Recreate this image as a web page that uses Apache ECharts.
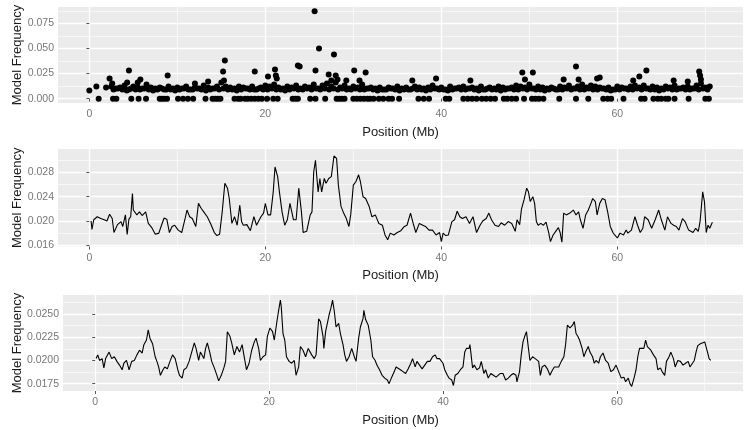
<!DOCTYPE html>
<html>
<head>
<meta charset="utf-8">
<script src="https://cdn.jsdelivr.net/npm/echarts@6/dist/echarts.min.js"></script>
<style>html,body{margin:0;padding:0;background:#fff}#c{width:750px;height:430px}</style>
</head>
<body>
<div id="c"></div>
<script>
// ---------- DATA ----------
const xTicks = [0, 20, 40, 60];
const xMinorTicks = [10, 30, 50, 70];
const y1Ticks = [0, 0.025, 0.05, 0.075];
const y1Minor = [0.0125, 0.0375, 0.0625, 0.0875];
const y2Ticks = [0.016, 0.020, 0.024, 0.028];
const y2Minor = [0.018, 0.022, 0.026, 0.030];
const y3Ticks = [0.0175, 0.0200, 0.0225, 0.0250];
const y3Minor = [0.01875, 0.02125, 0.02375, 0.02625];

// panel 1: model frequency per window (scatter)
const bandUpper = [
[2.5,0.012],[3,0.010],[3.5,0.011],[4,0.013],[4.5,0.009],[5,0.012],[5.5,0.011],[6,0.010],[6.5,0.014],[7,0.011],
[7.5,0.010],[8,0.011],[8.5,0.009],[9,0.012],[9.5,0.010],[10,0.011],[10.5,0.010],[11,0.012],[11.5,0.009],[12,0.011],
[12.5,0.010],[13,0.013],[13.5,0.011],[14,0.010],[14.5,0.012],[15,0.016],[15.5,0.012],[16,0.011],[16.5,0.010],[17,0.012],
[17.5,0.011],[18,0.010],[18.5,0.012],[19,0.009],[19.5,0.011],[20,0.013],[20.5,0.012],[21,0.014],[21.5,0.011],[22,0.010],
[22.5,0.012],[23,0.011],[23.5,0.013],[24,0.010],[24.5,0.012],[25,0.011],[25.5,0.014],[26,0.010],[26.5,0.013],[27,0.015],
[27.5,0.012],[28,0.016],[28.5,0.011],[29,0.013],[29.5,0.010],[30,0.012],[30.5,0.011],[31,0.014],[31.5,0.010],[32,0.011],
[32.5,0.010],[33,0.011],[33.5,0.009],[34,0.011],[34.5,0.010],[35,0.012],[35.5,0.010],[36,0.011],[36.5,0.009],[37,0.012],
[37.5,0.011],[38,0.010],[38.5,0.011],[39,0.013],[39.5,0.010],[40,0.011],[40.5,0.009],[41,0.012],[41.5,0.010],[42,0.011],
[42.5,0.012],[43,0.010],[43.5,0.011],[44,0.010],[44.5,0.012],[45,0.009],[45.5,0.011],[46,0.010],[46.5,0.012],[47,0.011],
[47.5,0.010],[48,0.011],[48.5,0.013],[49,0.012],[49.5,0.011],[50,0.014],[50.5,0.010],[51,0.012],[51.5,0.011],[52,0.010],
[52.5,0.011],[53,0.009],[53.5,0.012],[54,0.011],[54.5,0.013],[55,0.010],[55.5,0.012],[56,0.014],[56.5,0.011],[57,0.013],
[57.5,0.012],[58,0.011],[58.5,0.010],[59,0.011],[59.5,0.009],[60,0.012],[60.5,0.011],[61,0.010],[61.5,0.012],[62,0.013],
[62.5,0.011],[63,0.013],[63.5,0.010],[64,0.012],[64.5,0.011],[65,0.010],[65.5,0.012],[66,0.011],[66.5,0.013],[67,0.010],
[67.5,0.011],[68,0.012],[68.5,0.010],[69,0.013],[69.5,0.015],[70,0.011],[70.5,0.012]
];
const bandLower = [
[2.75,0.009],[3.25,0.010],[3.75,0.009],[4.25,0.008],[4.75,0.010],[5.25,0.009],[5.75,0.009],[6.25,0.010],[6.75,0.009],[7.25,0.008],
[7.75,0.009],[8.25,0.010],[8.75,0.009],[9.25,0.009],[9.75,0.008],[10.25,0.009],[10.75,0.010],[11.25,0.009],[11.75,0.009],[12.25,0.010],
[12.75,0.009],[13.25,0.008],[13.75,0.009],[14.25,0.010],[14.75,0.009],[15.25,0.010],[15.75,0.009],[16.25,0.009],[16.75,0.008],[17.25,0.009],
[17.75,0.010],[18.25,0.009],[18.75,0.009],[19.25,0.010],[19.75,0.009],[20.25,0.009],[20.75,0.010],[21.25,0.009],[21.75,0.009],[22.25,0.008],
[22.75,0.009],[23.25,0.010],[23.75,0.009],[24.25,0.009],[24.75,0.010],[25.25,0.009],[25.75,0.010],[26.25,0.009],[26.75,0.010],[27.25,0.009],
[27.75,0.010],[28.25,0.009],[28.75,0.010],[29.25,0.009],[29.75,0.009],[30.25,0.010],[30.75,0.009],[31.25,0.009],[31.75,0.010],[32.25,0.009],
[32.75,0.008],[33.25,0.009],[33.75,0.009],[34.25,0.010],[34.75,0.009],[35.25,0.008],[35.75,0.009],[36.25,0.009],[36.75,0.010],[37.25,0.009],
[37.75,0.009],[38.25,0.008],[38.75,0.009],[39.25,0.010],[39.75,0.009],[40.25,0.009],[40.75,0.008],[41.25,0.009],[41.75,0.010],[42.25,0.009],
[42.75,0.009],[43.25,0.010],[43.75,0.009],[44.25,0.008],[44.75,0.009],[45.25,0.010],[45.75,0.009],[46.25,0.009],[46.75,0.008],[47.25,0.009],
[47.75,0.010],[48.25,0.009],[48.75,0.009],[49.25,0.010],[49.75,0.009],[50.25,0.010],[50.75,0.009],[51.25,0.009],[51.75,0.008],[52.25,0.009],
[52.75,0.010],[53.25,0.009],[53.75,0.009],[54.25,0.010],[54.75,0.009],[55.25,0.010],[55.75,0.009],[56.25,0.009],[56.75,0.010],[57.25,0.009],
[57.75,0.009],[58.25,0.010],[58.75,0.009],[59.25,0.008],[59.75,0.009],[60.25,0.009],[60.75,0.010],[61.25,0.009],[61.75,0.009],[62.25,0.010],
[62.75,0.009],[63.25,0.010],[63.75,0.009],[64.25,0.009],[64.75,0.008],[65.25,0.009],[65.75,0.010],[66.25,0.009],[66.75,0.009],[67.25,0.010],
[67.75,0.009],[68.25,0.009],[68.75,0.010],[69.25,0.009],[69.75,0.010],[70.25,0.009]
];
const zeroPositions = [
1.06,2.69,3.07,4.77,5.6,6.44,8.0,8.26,8.52,8.83,10.08,10.65,11.2,11.8,13.2,14.0,14.3,14.6,14.9,
16.5,16.9,17.2,17.7,18.0,18.4,18.8,19.2,19.6,20.2,20.9,21.4,23.1,23.4,23.7,25.1,25.7,26.8,
28.1,28.4,28.7,29.0,30.0,30.4,30.8,31.2,31.6,31.9,32.3,32.9,33.4,34.0,34.4,35.2,37.4,38.0,38.6,
40.5,40.9,42.5,43.0,43.5,44.0,44.6,45.1,45.6,46.1,47.1,47.5,48.0,48.5,49.4,50.3,50.7,51.1,51.6,
53.4,55.3,56.7,58.4,58.9,59.3,60.7,62.7,63.1,64.1,64.6,65.0,65.5,65.8,66.5,68.1,70.0,70.4
];
const outliers = [
[0.0,0.008],[0.8,0.012],[1.9,0.011],[2.3,0.020],[2.6,0.015],[4.5,0.028],[4.3,0.016],[5.8,0.019],[5.5,0.016],
[8.9,0.023],[12.0,0.015],[13.5,0.017],[15.2,0.027],[15.4,0.038],[15.3,0.018],[18.8,0.027],[20.3,0.022],
[21.1,0.029],[21.2,0.023],[21.3,0.020],[23.7,0.033],[23.9,0.032],[25.6,0.087],[25.7,0.028],[26.1,0.050],
[27.8,0.044],[27.2,0.024],[28.0,0.023],[27.5,0.018],[28.2,0.019],[30.1,0.028],[31.4,0.026],[29.2,0.018],
[30.7,0.018],[36.7,0.018],[39.4,0.020],[43.3,0.018],[49.2,0.026],[50.4,0.026],[49.5,0.019],[53.9,0.019],
[55.3,0.032],[55.6,0.019],[57.7,0.020],[58.0,0.021],[62.5,0.022],[63.3,0.028],[61.8,0.018],[66.4,0.018],
[69.3,0.027],[69.4,0.023],[69.5,0.019],[68.0,0.017]
];

// panel 2: smoothed model frequency
const smooth2 = [
[0.2,0.0200],[0.3,0.0186],[0.5,0.0202],[0.9,0.0207],[1.3,0.0204],[1.7,0.0202],[2.0,0.0200],[2.3,0.0211],[2.6,0.0204],[2.8,0.0181],
[3.2,0.0194],[3.6,0.0199],[3.8,0.0191],[4.1,0.0210],[4.3,0.0178],[4.5,0.0203],[4.7,0.0207],[4.9,0.0245],[5.0,0.0218],[5.4,0.0210],
[5.7,0.0215],[6.0,0.0209],[6.4,0.0215],[6.7,0.0196],[7.1,0.0189],[7.5,0.0178],[7.9,0.0180],[8.2,0.0193],[8.5,0.0205],[8.8,0.0203],
[9.1,0.0181],[9.4,0.0191],[9.7,0.0193],[10.1,0.0185],[10.5,0.0181],[10.9,0.0205],[11.1,0.0218],[11.4,0.0207],[11.7,0.0204],[12.1,0.0191],
[12.4,0.0229],[12.7,0.0221],[13.0,0.0215],[13.4,0.0207],[13.8,0.0195],[14.2,0.0181],[14.5,0.0176],[14.8,0.0178],[15.1,0.0215],[15.4,0.0262],
[15.7,0.0254],[15.9,0.0237],[16.2,0.0196],[16.5,0.0207],[16.8,0.0193],[17.1,0.0226],[17.3,0.0199],[17.5,0.0193],[17.9,0.0194],[18.3,0.0184],
[18.7,0.0207],[19.0,0.0193],[19.2,0.0196],[19.5,0.0207],[19.8,0.0213],[20.0,0.0229],[20.3,0.0210],[20.6,0.0210],[20.9,0.0248],[21.1,0.0289],
[21.4,0.0273],[21.6,0.0248],[21.9,0.0215],[22.2,0.0193],[22.5,0.0202],[22.8,0.0229],[23.2,0.0202],[23.5,0.0202],[23.8,0.0254],[24.1,0.0215],
[24.3,0.0181],[24.7,0.0183],[25.1,0.0210],[25.3,0.0215],[25.5,0.0281],[25.7,0.0300],[25.8,0.0281],[26.0,0.0248],[26.2,0.0270],[26.4,0.0248],
[26.7,0.0270],[26.9,0.0262],[27.2,0.0270],[27.5,0.0273],[27.8,0.0307],[28.1,0.0303],[28.3,0.0259],[28.6,0.0224],[28.9,0.0213],[29.2,0.0204],
[29.5,0.0191],[29.7,0.0210],[30.0,0.0259],[30.3,0.0265],[30.6,0.0276],[30.8,0.0265],[31.1,0.0240],[31.4,0.0237],[31.8,0.0224],[32.1,0.0207],
[32.5,0.0210],[32.9,0.0196],[33.3,0.0193],[33.6,0.0177],[33.9,0.0169],[34.2,0.0180],[34.6,0.0177],[35.0,0.0181],[35.4,0.0184],[35.8,0.0191],
[36.1,0.0193],[36.5,0.0213],[36.8,0.0196],[37.1,0.0181],[37.5,0.0196],[37.9,0.0193],[38.2,0.0191],[38.6,0.0185],[39.0,0.0185],[39.4,0.0177],
[39.8,0.0181],[40.0,0.0166],[40.2,0.0180],[40.5,0.0176],[40.8,0.0177],[41.2,0.0199],[41.5,0.0202],[41.8,0.0216],[42.1,0.0207],[42.4,0.0204],
[42.8,0.0207],[43.2,0.0196],[43.6,0.0207],[44.0,0.0181],[44.4,0.0193],[44.7,0.0200],[45.1,0.0204],[45.4,0.0213],[45.7,0.0202],[46.1,0.0193],
[46.5,0.0191],[46.8,0.0197],[47.2,0.0193],[47.6,0.0199],[48.0,0.0196],[48.4,0.0183],[48.6,0.0202],[48.9,0.0194],[49.1,0.0219],[49.4,0.0235],
[49.7,0.0254],[49.9,0.0248],[50.1,0.0232],[50.4,0.0240],[50.6,0.0229],[50.8,0.0199],[51.0,0.0193],[51.3,0.0196],[51.6,0.0193],[51.9,0.0198],
[52.2,0.0181],[52.4,0.0166],[52.7,0.0177],[53.0,0.0183],[53.3,0.0189],[53.5,0.0181],[53.7,0.0165],[53.9,0.0213],[54.2,0.0210],[54.6,0.0213],
[55.0,0.0218],[55.3,0.0210],[55.6,0.0215],[55.8,0.0202],[56.1,0.0188],[56.4,0.0210],[56.7,0.0218],[57.0,0.0229],[57.2,0.0237],[57.5,0.0232],
[57.7,0.0210],[58.0,0.0229],[58.3,0.0237],[58.6,0.0235],[58.9,0.0215],[59.2,0.0191],[59.5,0.0181],[59.7,0.0177],[60.0,0.0172],[60.3,0.0180],
[60.7,0.0177],[61.0,0.0185],[61.2,0.0180],[61.6,0.0185],[62.0,0.0207],[62.3,0.0193],[62.6,0.0181],[62.9,0.0188],[63.1,0.0207],[63.5,0.0202],
[63.9,0.0188],[64.3,0.0202],[64.7,0.0218],[65.0,0.0202],[65.4,0.0185],[65.7,0.0207],[66.1,0.0196],[66.4,0.0193],[66.7,0.0191],[67.0,0.0185],
[67.4,0.0204],[67.7,0.0199],[68.1,0.0185],[68.3,0.0187],[68.6,0.0181],[68.9,0.0188],[69.2,0.0183],[69.4,0.0199],[69.7,0.0248],[69.9,0.0232],
[70.1,0.0181],[70.3,0.0193],[70.5,0.0188],[70.8,0.0198]
];

// panel 3: smoothed model frequency (second estimate)
const smooth3 = [
[0.1,0.0202],[0.3,0.0206],[0.5,0.0200],[0.8,0.0202],[1.0,0.0192],[1.2,0.0202],[1.4,0.0200],[1.6,0.0209],[1.9,0.0202],[2.2,0.0204],
[2.5,0.0199],[2.8,0.0195],[3.1,0.0190],[3.3,0.0197],[3.6,0.0200],[3.9,0.0190],[4.2,0.0199],[4.5,0.0200],[4.8,0.0206],[5.1,0.0211],
[5.4,0.0208],[5.6,0.0217],[5.9,0.0222],[6.1,0.0233],[6.3,0.0224],[6.6,0.0218],[6.9,0.0204],[7.1,0.0199],[7.3,0.0193],[7.5,0.0184],
[7.8,0.0190],[8.0,0.0193],[8.3,0.0191],[8.6,0.0199],[8.9,0.0206],[9.2,0.0202],[9.5,0.0190],[9.7,0.0184],[10.0,0.0181],[10.2,0.0190],
[10.5,0.0192],[10.8,0.0199],[11.1,0.0209],[11.4,0.0219],[11.6,0.0213],[11.9,0.0200],[12.1,0.0209],[12.5,0.0202],[12.7,0.0213],[12.9,0.0219],
[13.2,0.0208],[13.4,0.0199],[13.7,0.0192],[14.0,0.0184],[14.2,0.0178],[14.5,0.0184],[14.8,0.0192],[15.0,0.0199],[15.2,0.0231],[15.5,0.0226],
[15.7,0.0219],[16.0,0.0206],[16.3,0.0215],[16.6,0.0209],[16.9,0.0217],[17.1,0.0206],[17.4,0.0190],[17.7,0.0197],[18.0,0.0211],[18.3,0.0220],
[18.5,0.0224],[18.8,0.0213],[19.0,0.0200],[19.3,0.0204],[19.6,0.0206],[19.8,0.0226],[20.1,0.0235],[20.4,0.0231],[20.6,0.0222],[20.9,0.0242],
[21.1,0.0254],[21.3,0.0265],[21.4,0.0258],[21.6,0.0229],[21.8,0.0222],[22.0,0.0204],[22.3,0.0199],[22.6,0.0197],[22.9,0.0200],[23.1,0.0184],
[23.4,0.0193],[23.6,0.0215],[23.9,0.0211],[24.2,0.0204],[24.5,0.0213],[24.7,0.0215],[24.9,0.0206],[25.2,0.0202],[25.4,0.0206],[25.7,0.0245],
[25.9,0.0242],[26.2,0.0226],[26.3,0.0213],[26.5,0.0231],[26.7,0.0240],[26.9,0.0249],[27.1,0.0256],[27.3,0.0265],[27.5,0.0253],[27.7,0.0236],
[28.0,0.0240],[28.2,0.0229],[28.5,0.0217],[28.7,0.0206],[28.9,0.0199],[29.2,0.0204],[29.5,0.0213],[29.8,0.0204],[30.0,0.0199],[30.3,0.0224],
[30.5,0.0236],[30.8,0.0245],[30.9,0.0254],[31.1,0.0244],[31.4,0.0238],[31.7,0.0222],[31.9,0.0204],[32.2,0.0200],[32.4,0.0195],[32.7,0.0190],
[33.0,0.0184],[33.3,0.0181],[33.6,0.0179],[33.8,0.0175],[34.1,0.0182],[34.4,0.0188],[34.6,0.0193],[34.8,0.0191],[35.1,0.0190],[35.4,0.0188],
[35.7,0.0186],[36.0,0.0191],[36.3,0.0197],[36.5,0.0202],[36.8,0.0193],[37.0,0.0199],[37.3,0.0195],[37.6,0.0191],[37.9,0.0195],[38.2,0.0199],
[38.5,0.0199],[38.8,0.0204],[39.1,0.0206],[39.3,0.0202],[39.6,0.0202],[40.0,0.0197],[40.2,0.0190],[40.5,0.0184],[40.7,0.0181],[41.0,0.0179],
[41.2,0.0173],[41.4,0.0184],[41.7,0.0186],[42.0,0.0190],[42.3,0.0193],[42.5,0.0209],[42.7,0.0213],[43.0,0.0213],[43.1,0.0217],[43.4,0.0192],
[43.6,0.0195],[43.9,0.0190],[44.2,0.0192],[44.4,0.0199],[44.7,0.0186],[44.9,0.0190],[45.2,0.0181],[45.5,0.0186],[45.8,0.0184],[46.1,0.0182],
[46.3,0.0184],[46.6,0.0186],[46.9,0.0186],[47.2,0.0179],[47.5,0.0181],[47.8,0.0184],[48.1,0.0186],[48.4,0.0184],[48.5,0.0177],[48.8,0.0188],
[49.0,0.0206],[49.2,0.0220],[49.4,0.0226],[49.6,0.0231],[49.8,0.0215],[50.0,0.0200],[50.3,0.0204],[50.6,0.0202],[50.8,0.0200],[51.0,0.0199],
[51.2,0.0184],[51.4,0.0193],[51.7,0.0195],[52.0,0.0191],[52.3,0.0184],[52.5,0.0188],[52.8,0.0193],[53.0,0.0195],[53.3,0.0193],[53.6,0.0199],
[53.9,0.0204],[54.1,0.0217],[54.3,0.0238],[54.6,0.0235],[54.9,0.0238],[55.1,0.0242],[55.3,0.0229],[55.5,0.0226],[55.7,0.0222],[56.0,0.0213],
[56.2,0.0204],[56.4,0.0209],[56.7,0.0215],[56.9,0.0209],[57.2,0.0204],[57.4,0.0197],[57.6,0.0200],[57.9,0.0197],[58.1,0.0204],[58.4,0.0208],
[58.7,0.0200],[59.0,0.0197],[59.3,0.0188],[59.6,0.0190],[59.9,0.0195],[60.2,0.0188],[60.5,0.0181],[60.8,0.0182],[61.0,0.0177],[61.3,0.0181],
[61.5,0.0175],[61.7,0.0172],[62.0,0.0182],[62.2,0.0190],[62.4,0.0204],[62.6,0.0213],[62.8,0.0215],[63.1,0.0213],[63.3,0.0222],[63.5,0.0215],
[63.6,0.0217],[63.9,0.0211],[64.2,0.0206],[64.5,0.0202],[64.7,0.0190],[65.0,0.0192],[65.2,0.0188],[65.5,0.0184],[65.7,0.0199],[66.0,0.0204],
[66.2,0.0209],[66.5,0.0202],[66.7,0.0193],[67.0,0.0200],[67.3,0.0199],[67.6,0.0195],[67.9,0.0197],[68.2,0.0199],[68.4,0.0193],[68.6,0.0191],
[68.9,0.0200],[69.1,0.0209],[69.3,0.0216],[69.6,0.0218],[69.8,0.0218],[70.1,0.0220],[70.3,0.0213],[70.5,0.0206],[70.6,0.0202],[70.8,0.0200]
];

const xTitle = 'Position (Mb)';
const yTitle = 'Model Frequency';

// ---------- CHART ----------
const FONT = '"Liberation Sans", Arial, sans-serif';
const panels = [
  {top: 7,   height: 96,  left: 58, xmin: -3.56, xmax: 74.28, ymin: -0.00435, ymax: 0.0913, yt: y1Ticks, ym: y1Minor, fmt: v => v.toFixed(3)},
  {top: 149, height: 97.5, left: 58, xmin: -3.56, xmax: 74.28, ymin: 0.0158, ymax: 0.03185, yt: y2Ticks, ym: y2Minor, fmt: v => v.toFixed(3)},
  {top: 295, height: 96,  left: 63, xmin: -3.7, xmax: 74.5, ymin: 0.01671, ymax: 0.02705, yt: y3Ticks, ym: y3Minor, fmt: v => v.toFixed(4)}
];

const grid = [], xAxis = [], yAxis = [], graphic = [];
panels.forEach((p, i) => {
  grid.push({left: p.left, right: 7, top: p.top, height: p.height, show: true,
    backgroundColor: '#EBEBEB', borderWidth: 0, containLabel: false});
  // major x
  xAxis.push({gridIndex: i, type: 'value', min: p.xmin, max: p.xmax,
    axisLine: {show: false},
    axisTick: {show: true, length: 3, lineStyle: {color: '#555', width: 1}, customValues: xTicks},
    axisLabel: {customValues: xTicks, color: '#777', fontSize: 10.5, fontFamily: FONT, margin: 6},
    splitLine: {show: true, lineStyle: {color: '#FFFFFF', width: 1.3}}, z: 1});
  // minor x
  xAxis.push({gridIndex: i, type: 'value', min: p.xmin, max: p.xmax,
    axisLine: {show: false}, axisTick: {show: false, customValues: xMinorTicks},
    axisLabel: {show: false, customValues: xMinorTicks},
    splitLine: {show: true, lineStyle: {color: '#FFFFFF', width: 0.6}}, z: 0});
  // major y
  yAxis.push({gridIndex: i, type: 'value', min: p.ymin, max: p.ymax,
    axisLine: {show: false},
    axisTick: {show: true, length: 3, lineStyle: {color: '#555', width: 1}, customValues: p.yt},
    axisLabel: {customValues: p.yt, color: '#777', fontSize: 10.5, fontFamily: FONT, margin: 4, formatter: p.fmt},
    splitLine: {show: true, lineStyle: {color: '#FFFFFF', width: 1.3}}, z: 1});
  // minor y
  yAxis.push({gridIndex: i, type: 'value', min: p.ymin, max: p.ymax,
    axisLine: {show: false}, axisTick: {show: false, customValues: p.ym},
    axisLabel: {show: false, customValues: p.ym},
    splitLine: {show: true, lineStyle: {color: '#FFFFFF', width: 0.6}}, z: 0});

  graphic.push({type: 'text', x: 17, y: p.top + p.height / 2, rotation: Math.PI / 2,
    style: {text: yTitle, fontSize: 13, fontFamily: FONT, fill: '#1a1a1a', textAlign: 'center', textVerticalAlign: 'middle'}});
  graphic.push({type: 'text', x: 400.5, y: p.top + p.height + 29,
    style: {text: xTitle, fontSize: 13, fontFamily: FONT, fill: '#1a1a1a', textAlign: 'center', textVerticalAlign: 'middle'}});
});

const dot = {type: 'scatter', xAxisIndex: 0, yAxisIndex: 0, symbol: 'circle', symbolSize: 6,
  itemStyle: {color: '#000', opacity: 1}, silent: true, z: 3};
const series = [
  Object.assign({}, dot, {data: bandLower}),
  Object.assign({}, dot, {data: bandUpper}),
  Object.assign({}, dot, {data: zeroPositions.map(x => [x, 0])}),
  Object.assign({}, dot, {data: outliers}),
  {type: 'line', xAxisIndex: 2, yAxisIndex: 2, data: smooth2, showSymbol: false, silent: true, z: 3,
    lineStyle: {color: '#000', width: 1.1}},
  {type: 'line', xAxisIndex: 4, yAxisIndex: 4, data: smooth3, showSymbol: false, silent: true, z: 3,
    lineStyle: {color: '#000', width: 1.1}}
];

const chart = echarts.init(document.getElementById('c'), null, {renderer: 'canvas'});
chart.setOption({animation: false, backgroundColor: '#fff', grid, xAxis, yAxis, series, graphic});
</script>
</body>
</html>
